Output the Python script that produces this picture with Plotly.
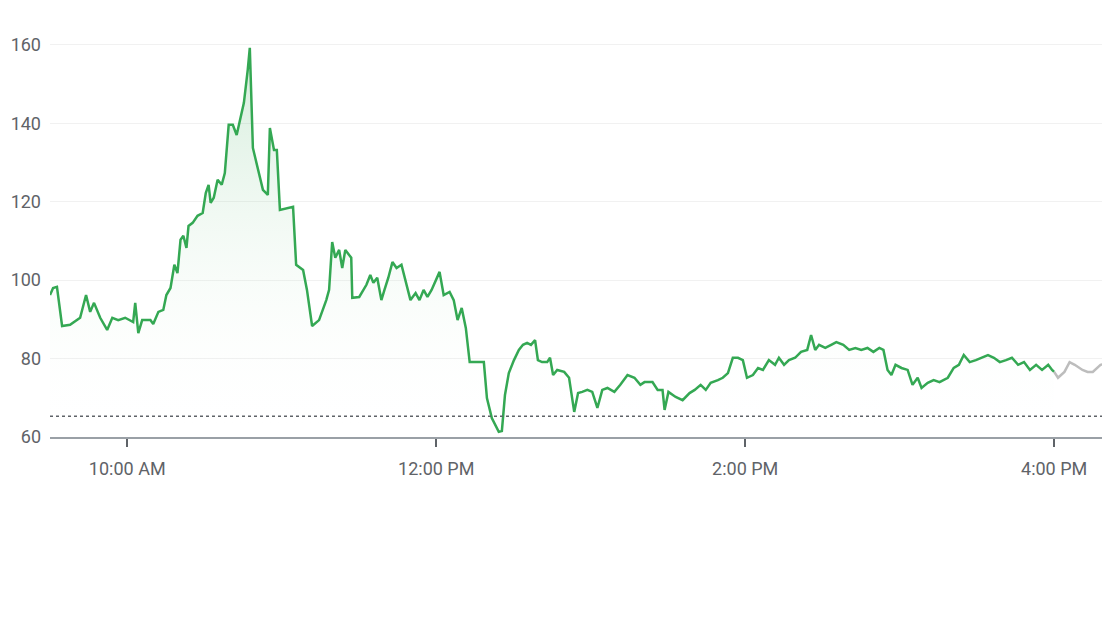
import plotly.graph_objects as go
import pandas as pd

minutes = [0,1.2,2.7,4.7,7.8,11.7,14.0,15.6,17.1,19.5,22.2,24.2,26.5,29.2,32.3,33.1,34.3,35.8,39.0,40.1,42.1,44.0,45.2,46.8,48.3,49.5,50.7,51.8,53.0,53.8,55.4,57.3,59.3,60.5,61.6,62.4,63.6,65.1,66.7,67.9,69.4,71.0,72.5,74.1,75.3,76.8,77.6,78.8,80.7,82.7,84.6,85.4,87.0,88.1,89.3,92.4,94.4,95.6,98.3,99.8,101.8,104.5,107.3,108.4,109.6,110.8,112.3,113.5,114.7,117.0,117.4,120.1,122.9,124.4,125.6,127.1,128.7,129.9,131.4,133.0,134.6,136.5,138.1,140.0,142.0,143.5,145.1,146.6,148.2,149.8,151.3,152.9,155.2,156.8,158.3,159.9,161.5,163.0,166.1,168.5,169.7,171.6,174.3,175.5,176.7,178.2,180.2,182.1,183.7,185.3,186.8,188.4,189.5,191.1,193.1,194.2,195.4,197.0,199.7,201.6,203.6,205.1,206.7,208.7,210.6,212.6,214.5,216.5,219.2,221.5,224.3,227.0,229.3,230.9,234.0,236.0,237.9,238.7,240.2,243.0,245.7,248.4,250.4,252.7,254.7,256.6,259.4,261.3,263.3,265.2,267.2,269.1,270.7,273.0,275.0,276.9,279.2,281.6,283.1,285.1,287.0,289.4,291.7,294.1,295.6,297.2,298.7,301.1,303.4,305.4,308.1,310.4,312.8,315.1,317.5,319.8,322.1,323.7,325.3,326.8,328.4,330.7,333.1,335.0,337.0,338.5,340.9,343.2,345.5,348.7,351.0,353.0,354.9,357.2,359.6,361.9,364.3,366.6,368.9,371.3,373.6,376.0,378.3,380.6,383.0,385.3,387.7,389.2,390]
prices = [96.2,98.0,98.3,88.3,88.6,90.4,96.2,91.9,94.2,90.4,87.3,90.4,89.8,90.4,89.3,94.2,86.5,89.8,89.8,88.8,91.9,92.4,96.2,98.0,103.9,101.8,110.3,111.3,108.2,113.8,114.6,116.4,117.1,122.2,124.3,119.7,121.0,125.6,124.3,127.3,139.6,139.6,137.0,142.1,145.2,153.6,159.2,133.7,128.1,123.0,121.7,138.8,133.2,133.2,117.9,118.4,118.7,103.9,102.6,97.5,88.3,89.8,94.9,97.5,109.7,105.7,107.7,103.1,107.7,105.7,95.5,95.7,98.8,101.3,99.3,100.6,94.9,97.5,100.6,104.6,103.1,103.9,100.1,94.9,96.7,94.9,97.5,95.7,97.5,100.1,102.1,96.2,97.0,94.9,89.8,92.9,87.8,79.1,79.1,79.1,69.9,64.8,61.3,61.5,70.7,76.3,79.6,82.2,83.5,84.0,83.5,84.7,79.6,79.1,79.1,80.2,75.8,77.1,76.6,75.1,66.4,71.2,71.5,72.0,71.5,67.4,72.0,72.5,71.5,73.3,75.8,75.1,73.3,74.0,74.0,72.0,72.0,66.9,71.5,70.2,69.4,71.2,72.0,73.3,72.0,73.8,74.5,75.1,76.3,80.2,80.2,79.6,75.1,75.8,77.6,77.1,79.6,78.4,80.2,78.4,79.6,80.2,81.7,82.2,86.0,82.2,83.5,82.7,83.5,84.2,83.5,82.2,82.7,82.2,82.7,81.7,82.7,82.2,77.1,75.8,78.4,77.6,77.1,73.3,75.1,72.5,73.8,74.5,74.0,75.1,77.6,78.4,80.9,79.1,79.6,80.2,80.9,80.2,79.1,79.6,80.2,78.4,79.1,77.1,78.4,77.1,78.4,77.1,76.6]
ah_minutes = [390,391.5,394,396,398,401,403,405,408,410,411.5]
ah_prices = [76.6,75.1,76.6,79.1,78.4,77.1,76.6,76.6,78.4,78.6,78.1]
prev_close = 65.3
tick_times = ["10:00","12:00","14:00","16:00"]

base = pd.Timestamp("2024-01-02 09:30")
t = [base + pd.Timedelta(minutes=m) for m in minutes]
ta = [base + pd.Timedelta(minutes=m) for m in ah_minutes]

fig = go.Figure()
fig.add_trace(go.Scatter(x=t, y=prices, mode="lines", line=dict(color="#34a853", width=2.5),
    fill="tozeroy",
    fillgradient=dict(type="vertical", start=160, stop=60,
                      colorscale=[[0, "rgba(52,168,83,0.22)"], [1, "rgba(255,255,255,0)"]]),
    hoverinfo="skip"))
fig.add_trace(go.Scatter(x=ta, y=ah_prices, mode="lines", line=dict(color="#bdbdbd", width=2.5), hoverinfo="skip"))
fig.add_shape(type="line", xref="paper", x0=0, x1=1, y0=prev_close, y1=prev_close,
              line=dict(color="#5f6368", width=1.5, dash="dot"))

ticks = [pd.Timestamp("2024-01-02 " + s) for s in tick_times]
fig.update_layout(
    width=1110, height=625, showlegend=False,
    plot_bgcolor="white", paper_bgcolor="white",
    margin=dict(l=42, r=0, t=25, b=196),
    font=dict(family="Roboto", color="#5f6368", size=18),
    xaxis=dict(range=[base, base + pd.Timedelta(minutes=414.8)], tickvals=ticks,
               ticktext=["10:00 AM","12:00 PM","2:00 PM","4:00 PM"],
               showgrid=False, showline=True, linecolor="#9aa0a6", linewidth=2,
               ticks="outside", ticklen=8, tickwidth=2, tickcolor="#5f6368", zeroline=False,
               ticklabelstandoff=6, tickfont=dict(size=18, color="#5f6368")),
    yaxis=dict(range=[60, 163], tickvals=[60,80,100,120,140,160], showgrid=True,
               gridcolor="#f1f1f1", zeroline=False, ticks="", ticklabelstandoff=8,
               tickfont=dict(size=18, color="#5f6368")),
)
fig.write_html("out.html")
